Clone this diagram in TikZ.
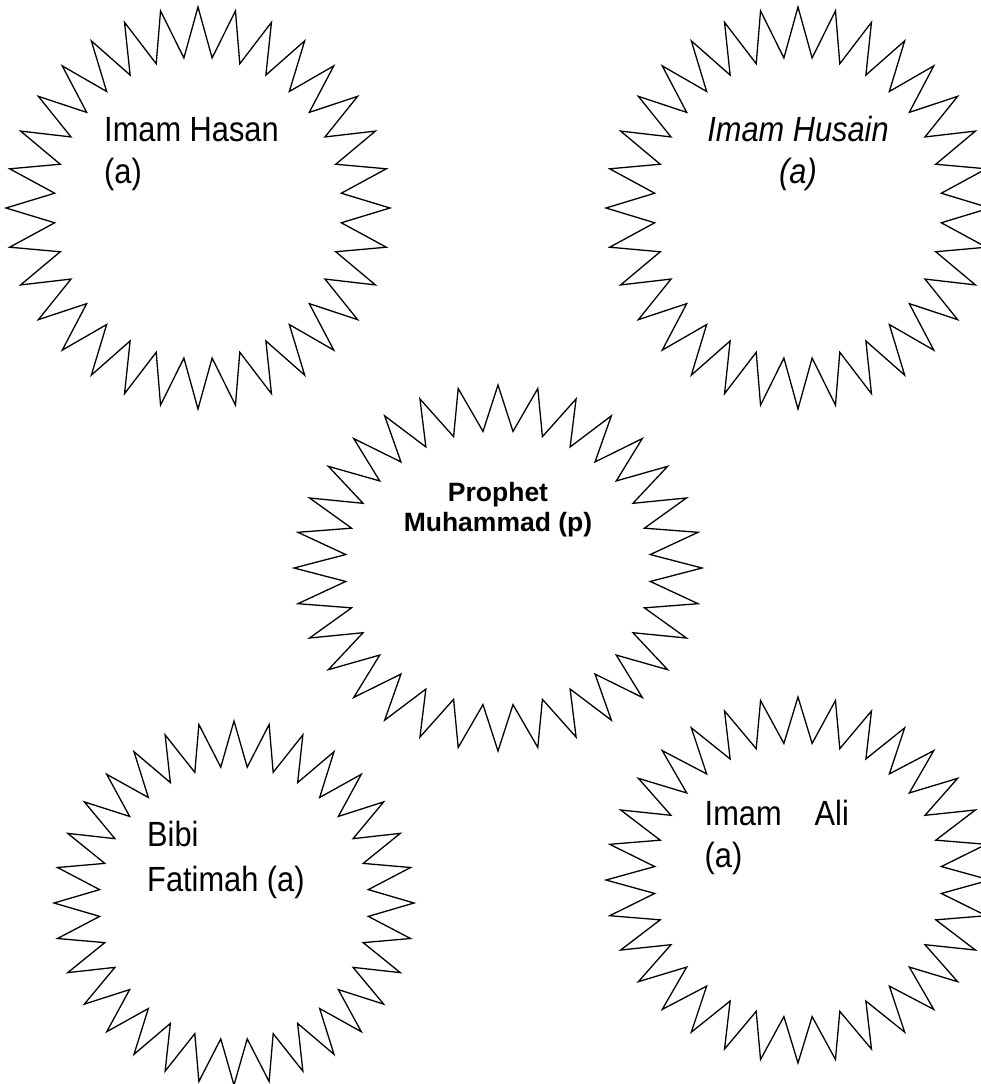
\documentclass[tikz,border=0pt]{standalone}
\usepackage{fontspec}
\newfontfamily\narrowfont[FakeStretch=0.88]{Liberation Sans}
\newfontfamily\arialfont{Liberation Sans}
\newcommand\starburst[4]{%
  \draw[starline] plot[samples at={0,...,63}]
    ({#1+(0.875+0.125*cos(\x*180))*#3*cos(90+\x*5.625)},
     {#2+(0.875+0.125*cos(\x*180))*#4*sin(90+\x*5.625)}) -- cycle;}
\tikzset{
  starline/.style={draw=black, line width=1.3pt, line join=miter, fill=white},
  lbl/.style={inner sep=0pt, font=\narrowfont\fontsize{35}{41.5}\selectfont},
  boldlbl/.style={inner sep=0pt, align=center, font=\arialfont\bfseries\fontsize{26.5}{30}\selectfont},
}
\begin{document}
\begin{tikzpicture}[x=1pt,y=-1pt]
\useasboundingbox (0,0) rectangle (981,1084);
\clip (0,0) rectangle (981,1084);
\fill[white] (0,0) rectangle (981,1084);
% stars
\starburst{198}{208}{192}{201}
\starburst{798}{208}{192}{201}
\starburst{498}{568}{204}{183}
\starburst{234}{903}{180}{182}
\starburst{798}{880}{192}{183}
% texts
\node[lbl, anchor=base west] (hasan1) at (104,141.7) {Imam Hasan};
\node[lbl, anchor=base west] (hasan2) at (104,183.3) {(a)};
\node[lbl, anchor=base, font=\narrowfont\itshape\fontsize{35}{41.5}\selectfont] (husain1) at (798,141.7) {Imam Husain};
\node[lbl, anchor=base, font=\narrowfont\itshape\fontsize{35}{41.5}\selectfont] (husain2) at (798,183.3) {(a)};
\node[boldlbl, anchor=base] (prophet1) at (498,501.7) {Prophet};
\node[boldlbl, anchor=base] (prophet2) at (498,531.7) {Muhammad (p)};
\node[lbl, anchor=base west] (fatimah1) at (147,846.7) {Bibi};
\node[lbl, anchor=base west] (fatimah2) at (147,891) {Fatimah (a)};
\node[lbl, anchor=base west] (ali1) at (704.5,825.7) {Imam\hspace{33pt}Ali};
\node[lbl, anchor=base west] (ali2) at (704.5,867) {(a)};
\end{tikzpicture}
\end{document}
